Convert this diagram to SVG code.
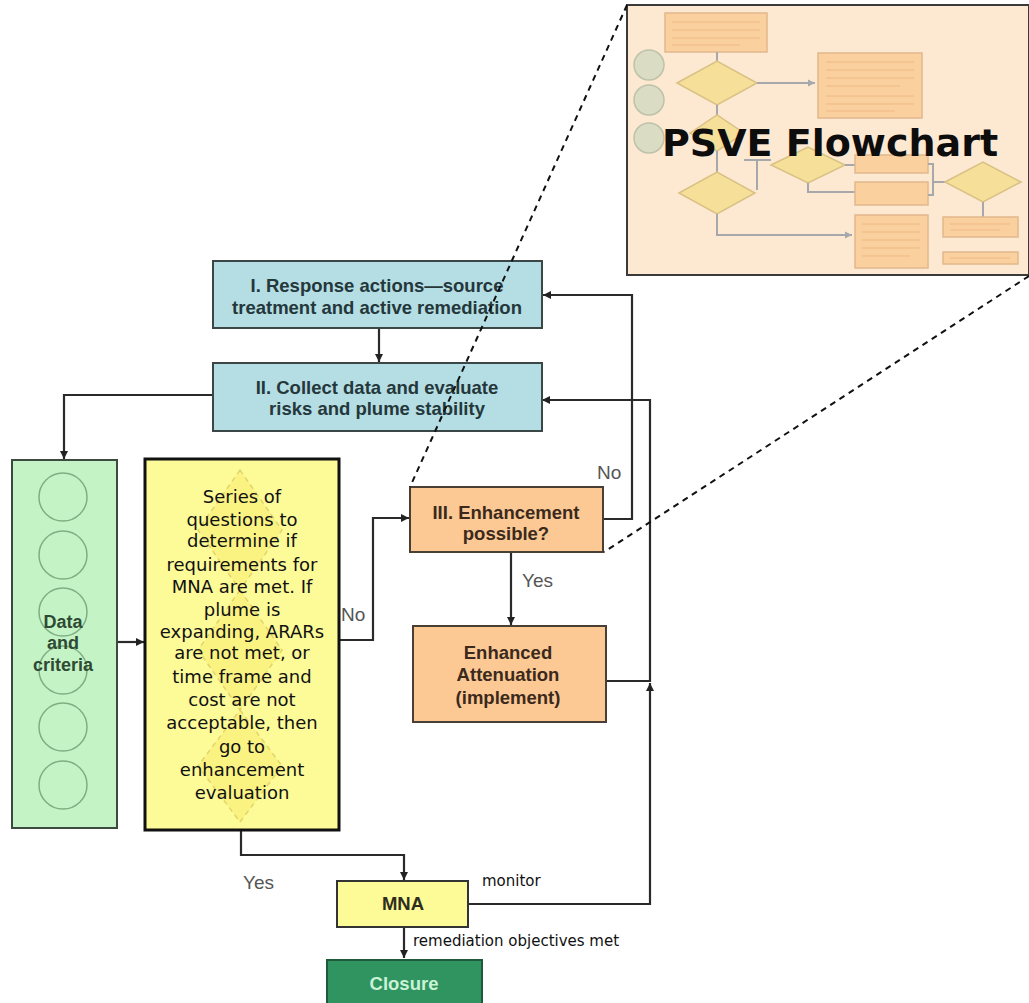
<svg xmlns="http://www.w3.org/2000/svg" width="1029" height="1003" viewBox="0 0 1029 1003">
<defs>
<marker id="ah" markerWidth="10" markerHeight="10" refX="9" refY="5" orient="auto" markerUnits="userSpaceOnUse">
<path d="M1,1 L9,5 L1,9 Z" fill="#222"/>
</marker>
<marker id="ahs" markerWidth="8" markerHeight="8" refX="7" refY="4" orient="auto" markerUnits="userSpaceOnUse">
<path d="M0,0.5 L7,4 L0,7.5 Z" fill="#8a93a0"/>
</marker>
<filter id="soft" x="-5%" y="-5%" width="110%" height="110%">
<feGaussianBlur stdDeviation="0.7"/>
</filter>
</defs>
<style>
.blue{fill:#b5dde4;stroke:#3b4646;stroke-width:2}
.peach{fill:#fcc995;stroke:#4a3f35;stroke-width:2}
.bt{font-family:"Liberation Sans",Arial,sans-serif;font-weight:bold;font-size:18.5px;text-anchor:middle}
.bluet{fill:#24373a}
.peacht{fill:#3b2a1c}
.lbl{font-family:"Liberation Sans",Arial,sans-serif;font-size:19px;fill:#555}
.pix{font-family:"DejaVu Sans",sans-serif;font-size:18px;fill:#111;text-anchor:middle}
.small{font-family:"DejaVu Sans",sans-serif;font-size:15px;fill:#111}
.conn{fill:none;stroke:#2a2a2a;stroke-width:2.2}
.dash{fill:none;stroke:#111;stroke-width:2;stroke-dasharray:6 5}
.circ{fill:none;stroke:#7fae85;stroke-width:1.5}
.ib{fill:#fbc98e;stroke:#d9a877;stroke-width:1.5}
.id{fill:#f4de87;stroke:#cdb46a;stroke-width:1.5}
.ic{fill:#cfd8c0;stroke:#a8b69c;stroke-width:1.5}
.il{fill:none;stroke:#8a93a0;stroke-width:2}
.it{stroke:#d99a55;stroke-width:1.2;opacity:0.6}
</style>

<g id="inset">
<rect x="627" y="5" width="402" height="270" fill="#fde8d2" stroke="#3a3a3a" stroke-width="2"/>
<g opacity="0.75" filter="url(#soft)">
<rect class="ib" x="665" y="13" width="102" height="39"/>
<circle class="ic" cx="649" cy="65" r="15"/>
<circle class="ic" cx="649" cy="100" r="15"/>
<circle class="ic" cx="649" cy="138" r="15"/>
<path class="il" d="M717,52 V61"/>
<path class="id" d="M677,83 L717,61 L757,83 L717,105 Z"/>
<path class="il" d="M757,83 H815" marker-end="url(#ahs)"/>
<rect class="ib" x="818" y="53" width="104" height="65"/>
<path class="il" d="M717,105 V115"/>
<path class="id" d="M690,133 L717,115 L744,133 L717,151 Z"/>
<path class="il" d="M717,151 V172"/>
<path class="id" d="M679,193 L717,172 L755,193 L717,214 Z"/>
<path class="il" d="M757,160 V190 M744,160 H771"/>
<path class="id" d="M771,165 L808,147 L845,165 L808,183 Z"/>
<path class="il" d="M845,165 H855 M808,183 V192 H855"/>
<rect class="ib" x="855" y="155" width="73" height="18"/>
<rect class="ib" x="855" y="182" width="73" height="23"/>
<path class="il" d="M928,164 H933 V195 H928 M933,182 H945"/>
<path class="id" d="M945,182 L983,162 L1021,182 L983,202 Z"/>
<path class="il" d="M983,202 V217"/>
<rect class="ib" x="943" y="217" width="75" height="20"/>
<rect class="ib" x="943" y="252" width="75" height="12"/>
<path class="il" d="M717,214 V235 H852" marker-end="url(#ahs)"/>
<rect class="ib" x="855" y="215" width="73" height="53"/>
<path class="it" d="M672,22 H760 M672,30 H760 M672,38 H760 M672,45 H740 M826,62 H914 M826,70 H914 M826,78 H914 M826,86 H900 M826,96 H914 M826,104 H914 M826,111 H895 M862,224 H920 M862,232 H920 M862,240 H920 M862,248 H920 M862,256 H910 M950,224 H1010 M950,230 H1000 M950,258 H1010"/>
</g>
<text x="830" y="156" font-family="'DejaVu Sans',sans-serif" font-weight="bold" font-size="38" fill="#0d0d0d" text-anchor="middle">PSVE Flowchart</text>
</g>

<g id="connectors">
<path class="conn" d="M379,328 V362" marker-end="url(#ah)"/>
<path class="conn" d="M213,395 H64 V459" marker-end="url(#ah)"/>
<path class="conn" d="M117,642 H144" marker-end="url(#ah)"/>
<path class="conn" d="M339,640 H373 V518 H409" marker-end="url(#ah)"/>
<path class="conn" d="M603,519 H632 V295 H543" marker-end="url(#ah)"/>
<path class="conn" d="M511,552 V625" marker-end="url(#ah)"/>
<path class="conn" d="M606,681 H650 V400 H542" marker-end="url(#ah)"/>
<path class="conn" d="M468,904 H650 V683" marker-end="url(#ah)"/>
<path class="conn" d="M241,830 V855 H404 V880" marker-end="url(#ah)"/>
<path class="conn" d="M404,927 V958" marker-end="url(#ah)"/>
<text class="lbl" x="341" y="621">No</text>
<text class="lbl" x="597" y="479">No</text>
<text class="lbl" x="522" y="587">Yes</text>
<text class="lbl" x="243" y="889">Yes</text>
<text class="small" x="482" y="886">monitor</text>
<text class="small" x="413" y="946">remediation objectives met</text>
</g>

<g id="box1">
<rect class="blue" x="213" y="261" width="329" height="67"/>
<text class="bt bluet" x="377" y="292">I. Response actions—source</text>
<text class="bt bluet" x="377" y="314">treatment and active remediation</text>
</g>

<g id="box2">
<rect class="blue" x="213" y="363" width="329" height="68"/>
<text class="bt bluet" x="377" y="394">II. Collect data and evaluate</text>
<text class="bt bluet" x="377" y="415">risks and plume stability</text>
</g>

<g id="data">
<rect x="12" y="460" width="105" height="368" fill="#c4f4c6" stroke="#3d4a3f" stroke-width="2"/>
<circle class="circ" cx="63" cy="497" r="24"/>
<circle class="circ" cx="63" cy="555" r="24"/>
<circle class="circ" cx="63" cy="612" r="24"/>
<circle class="circ" cx="63" cy="670" r="24"/>
<circle class="circ" cx="63" cy="727" r="24"/>
<circle class="circ" cx="63" cy="785" r="24"/>
<g font-family="'Liberation Sans',Arial,sans-serif" font-weight="bold" font-size="18" fill="#2f4a34" text-anchor="middle">
<text x="63" y="628">Data</text>
<text x="63" y="649">and</text>
<text x="63" y="671">criteria</text>
</g>
</g>

<g id="questions">
<rect x="145" y="459" width="194" height="371" fill="#fdfa98" stroke="#111" stroke-width="3"/>
<g fill="#f3e65a" fill-opacity="0.35" stroke="#d6c75a" stroke-opacity="0.7" stroke-width="1.5" stroke-dasharray="5 4">
<path d="M240,470 L282,530 L240,590 L198,530 Z"/>
<path d="M240,590 L282,650 L240,710 L198,650 Z"/>
<path d="M240,710 L282,766 L240,822 L198,766 Z"/>
</g>
<text class="pix" x="242" y="503">Series of</text>
<text class="pix" x="242" y="526">questions to</text>
<text class="pix" x="242" y="547">determine if</text>
<text class="pix" x="242" y="571">requirements for</text>
<text class="pix" x="242" y="593">MNA are met.  If</text>
<text class="pix" x="242" y="616">plume is</text>
<text class="pix" x="242" y="638">expanding, ARARs</text>
<text class="pix" x="242" y="659">are not met, or</text>
<text class="pix" x="242" y="683">time frame and</text>
<text class="pix" x="242" y="706">cost are not</text>
<text class="pix" x="242" y="729">acceptable, then</text>
<text class="pix" x="242" y="753">go to</text>
<text class="pix" x="242" y="776">enhancement</text>
<text class="pix" x="242" y="799">evaluation</text>
</g>

<g id="box3">
<rect class="peach" x="410" y="487" width="193" height="65"/>
<text class="bt peacht" x="506" y="519">III. Enhancement</text>
<text class="bt peacht" x="506" y="540">possible?</text>
</g>

<g id="ea">
<rect class="peach" x="413" y="626" width="193" height="96"/>
<text class="bt peacht" x="508" y="659">Enhanced</text>
<text class="bt peacht" x="508" y="681">Attenuation</text>
<text class="bt peacht" x="508" y="704">(implement)</text>
</g>

<g id="mna">
<rect x="337" y="881" width="131" height="46" fill="#fdfa98" stroke="#333" stroke-width="2"/>
<text class="bt" x="403" y="910" fill="#2e2e1e" font-size="17">MNA</text>
</g>

<g id="closure">
<rect x="327" y="960" width="155" height="45" fill="#2f9460" stroke="#1f5a3c" stroke-width="2"/>
<text class="bt" x="404" y="990" fill="#c9f2d6" font-size="20">Closure</text>
</g>

<g id="zoomlines">
<path class="dash" d="M627,5 L410,487"/>
<path class="dash" d="M1029,276 L604,552"/>
</g>
</svg>
